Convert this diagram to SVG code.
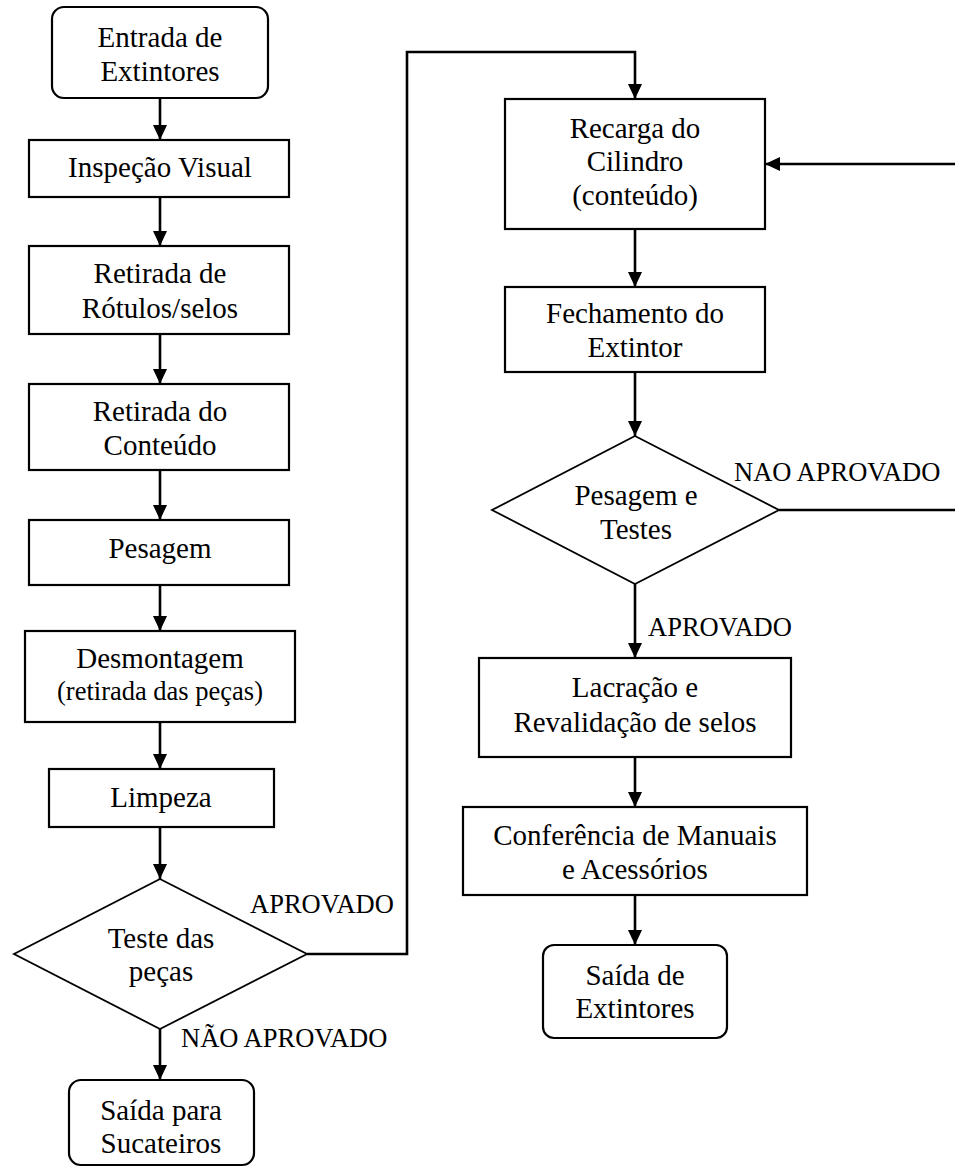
<svg xmlns="http://www.w3.org/2000/svg" width="955" height="1171" viewBox="0 0 955 1171">
  <style>
    .box { fill: #fff; stroke: #000; stroke-width: 2.2; }
    .dia { fill: #fff; stroke: #000; stroke-width: 1.8; }
    .t { font-family: "Liberation Serif", "Times New Roman", serif; font-size: 29px; fill: #000; text-anchor: middle; }
    .s { font-size: 26.5px; }
    .lbl { font-family: "Liberation Serif", "Times New Roman", serif; font-size: 26.5px; fill: #000; }
    .con { fill: none; stroke: #000; stroke-width: 2.6; }
  </style>
  <defs>
    <marker id="arrow" markerUnits="userSpaceOnUse" markerWidth="16" markerHeight="14" refX="15" refY="7" orient="auto">
      <path d="M0,0 L15,7 L0,14 z" fill="#000"/>
    </marker>
  </defs>
  <rect width="955" height="1171" fill="#fff"/>

  <!-- connectors -->
  <g id="connectors">
    <line class="con" x1="160" y1="98" x2="160" y2="140" marker-end="url(#arrow)"/>
    <line class="con" x1="160" y1="197" x2="160" y2="246" marker-end="url(#arrow)"/>
    <line class="con" x1="160" y1="334" x2="160" y2="384" marker-end="url(#arrow)"/>
    <line class="con" x1="160" y1="470" x2="160" y2="520" marker-end="url(#arrow)"/>
    <line class="con" x1="160" y1="585" x2="160" y2="631" marker-end="url(#arrow)"/>
    <line class="con" x1="160" y1="722" x2="160" y2="769" marker-end="url(#arrow)"/>
    <line class="con" x1="160" y1="827" x2="160" y2="879" marker-end="url(#arrow)"/>
    <line class="con" x1="160" y1="1029" x2="160" y2="1080" marker-end="url(#arrow)"/>
    <path class="con" d="M307,954 H407 V52 H635 V99" marker-end="url(#arrow)"/>
    <line class="con" x1="635" y1="229" x2="635" y2="287" marker-end="url(#arrow)"/>
    <line class="con" x1="635" y1="372" x2="635" y2="436" marker-end="url(#arrow)"/>
    <path class="con" d="M779,510 H958 V164 H765" marker-end="url(#arrow)"/>
    <line class="con" x1="635" y1="584" x2="635" y2="658" marker-end="url(#arrow)"/>
    <line class="con" x1="635" y1="757" x2="635" y2="807" marker-end="url(#arrow)"/>
    <line class="con" x1="635" y1="895" x2="635" y2="945" marker-end="url(#arrow)"/>
    <text class="lbl" x="250" y="913">APROVADO</text>
    <text class="lbl" x="181" y="1047">NÃO APROVADO</text>
    <text class="lbl" x="734" y="481">NAO APROVADO</text>
    <text class="lbl" x="648" y="636">APROVADO</text>
  </g>

  <!-- left column -->
  <g id="entrada">
    <rect class="box" x="52" y="7" width="216" height="91" rx="12"/>
    <text class="t" x="160" y="47">Entrada de</text>
    <text class="t" x="160" y="81">Extintores</text>
  </g>
  <g id="inspecao">
    <rect class="box" x="29" y="140" width="260" height="57"/>
    <text class="t" x="160" y="177">Inspeção Visual</text>
  </g>
  <g id="rotulos">
    <rect class="box" x="29" y="246" width="260" height="88"/>
    <text class="t" x="160" y="283">Retirada de</text>
    <text class="t" x="160" y="318">Rótulos/selos</text>
  </g>
  <g id="conteudo">
    <rect class="box" x="29" y="384" width="260" height="86"/>
    <text class="t" x="160" y="421">Retirada do</text>
    <text class="t" x="160" y="455">Conteúdo</text>
  </g>
  <g id="pesagem">
    <rect class="box" x="29" y="520" width="260" height="65"/>
    <text class="t" x="160" y="558">Pesagem</text>
  </g>
  <g id="desmontagem">
    <rect class="box" x="25" y="631" width="270" height="91"/>
    <text class="t" x="160" y="668">Desmontagem</text>
    <text class="t s" x="160" y="700">(retirada das peças)</text>
  </g>
  <g id="limpeza">
    <rect class="box" x="49" y="769" width="225" height="58"/>
    <text class="t" x="161" y="807">Limpeza</text>
  </g>
  <g id="teste-pecas">
    <polygon class="dia" points="160,879 307,954 160,1029 14,954"/>
    <text class="t" x="161" y="948">Teste das</text>
    <text class="t" x="161" y="981">peças</text>
  </g>
  <g id="sucateiros">
    <rect class="box" x="69" y="1080" width="185" height="85" rx="12"/>
    <text class="t" x="161" y="1120">Saída para</text>
    <text class="t" x="161" y="1153">Sucateiros</text>
  </g>

  <!-- right column -->
  <g id="recarga">
    <rect class="box" x="505" y="99" width="260" height="130"/>
    <text class="t" x="635" y="138">Recarga do</text>
    <text class="t" x="635" y="171">Cilindro</text>
    <text class="t" x="635" y="205">(conteúdo)</text>
  </g>
  <g id="fechamento">
    <rect class="box" x="505" y="287" width="260" height="85"/>
    <text class="t" x="635" y="323">Fechamento do</text>
    <text class="t" x="635" y="357">Extintor</text>
  </g>
  <g id="pesagem-testes">
    <polygon class="dia" points="635,436 779,510 635,584 492,510"/>
    <text class="t" x="636" y="505">Pesagem e</text>
    <text class="t" x="636" y="539">Testes</text>
  </g>
  <g id="lacracao">
    <rect class="box" x="479" y="658" width="312" height="99"/>
    <text class="t" x="635" y="697">Lacração e</text>
    <text class="t" x="635" y="732">Revalidação de selos</text>
  </g>
  <g id="conferencia">
    <rect class="box" x="463" y="807" width="344" height="88"/>
    <text class="t" x="635" y="845">Conferência de Manuais</text>
    <text class="t" x="635" y="879">e Acessórios</text>
  </g>
  <g id="saida">
    <rect class="box" x="543" y="945" width="184" height="93" rx="11"/>
    <text class="t" x="635" y="985">Saída de</text>
    <text class="t" x="635" y="1018">Extintores</text>
  </g>
</svg>
